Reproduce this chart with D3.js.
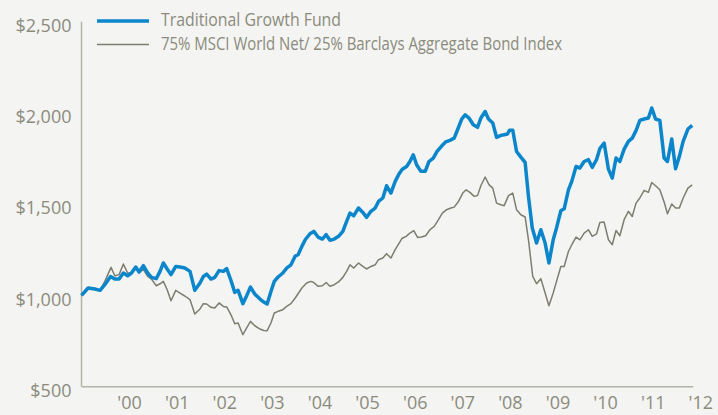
<!DOCTYPE html>
<html>
<head>
<meta charset="utf-8">
<script src="https://cdn.jsdelivr.net/npm/d3@7"></script>
<style>
  html, body { margin: 0; padding: 0; background: #f4f4f2; }
  svg { display: block; }
  text { font-family: 'Open Sans', sans-serif; fill: #8b8b7d; }
</style>
</head>
<body>
<div id="chart"></div>
<script>
const seriesNames = ['Traditional Growth Fund', '75% MSCI World Net/ 25% Barclays Aggregate Bond Index']
const yTicks = [500, 1000, 1500, 2000, 2500]
const yearTicks = [2000, 2001, 2002, 2003, 2004, 2005, 2006, 2007, 2008, 2009, 2010, 2011, 2012]

// [decimal year, growth of $1,000]
const fund = [
  [1999.00, 1000], [1999.14, 1041], [1999.28, 1035], [1999.39, 1028], [1999.49, 1059],
  [1999.61, 1104], [1999.70, 1090], [1999.79, 1090], [1999.88, 1123], [1999.97, 1108],
  [2000.05, 1123], [2000.14, 1156], [2000.21, 1128], [2000.30, 1163], [2000.39, 1123],
  [2000.47, 1099], [2000.57, 1092], [2000.65, 1132], [2000.72, 1178], [2000.80, 1145],
  [2000.88, 1114], [2000.98, 1159], [2001.07, 1156], [2001.17, 1150], [2001.28, 1132],
  [2001.38, 1028], [2001.49, 1068], [2001.56, 1104], [2001.63, 1117], [2001.72, 1090],
  [2001.80, 1099], [2001.89, 1136], [2001.98, 1132], [2002.05, 1147], [2002.14, 1082],
  [2002.22, 1017], [2002.29, 1028], [2002.39, 955], [2002.47, 999], [2002.55, 1046],
  [2002.64, 1008], [2002.75, 980], [2002.83, 964], [2002.90, 953], [2002.98, 1022],
  [2003.05, 1077], [2003.13, 1101], [2003.23, 1123], [2003.31, 1150], [2003.40, 1168],
  [2003.49, 1216], [2003.55, 1223], [2003.63, 1269], [2003.70, 1305], [2003.80, 1338],
  [2003.88, 1351], [2003.97, 1320], [2004.06, 1309], [2004.14, 1333], [2004.22, 1302],
  [2004.31, 1309], [2004.40, 1324], [2004.49, 1351], [2004.57, 1406], [2004.64, 1451],
  [2004.72, 1437], [2004.82, 1479], [2004.91, 1455], [2004.99, 1428], [2005.08, 1461],
  [2005.17, 1479], [2005.24, 1515], [2005.33, 1534], [2005.41, 1601], [2005.50, 1561],
  [2005.59, 1625], [2005.68, 1670], [2005.74, 1692], [2005.83, 1707], [2005.90, 1734],
  [2005.97, 1771], [2006.04, 1716], [2006.13, 1680], [2006.22, 1680], [2006.30, 1734],
  [2006.39, 1753], [2006.47, 1789], [2006.57, 1820], [2006.65, 1841], [2006.74, 1850],
  [2006.83, 1862], [2006.90, 1908], [2006.99, 1968], [2007.06, 1990], [2007.14, 1972],
  [2007.23, 1935], [2007.32, 1921], [2007.39, 1972], [2007.48, 2008], [2007.55, 1967],
  [2007.64, 1945], [2007.72, 1866], [2007.81, 1877], [2007.88, 1881], [2007.95, 1885],
  [2007.99, 1905], [2008.06, 1905], [2008.14, 1789], [2008.23, 1758], [2008.32, 1729],
  [2008.39, 1543], [2008.47, 1370], [2008.56, 1287], [2008.65, 1360], [2008.74, 1287],
  [2008.82, 1178], [2008.91, 1305], [2008.98, 1370], [2009.07, 1464], [2009.14, 1475],
  [2009.23, 1579], [2009.30, 1625], [2009.39, 1707], [2009.47, 1698], [2009.56, 1734],
  [2009.65, 1744], [2009.73, 1702], [2009.82, 1744], [2009.89, 1805], [2009.98, 1835],
  [2010.07, 1692], [2010.15, 1643], [2010.23, 1753], [2010.31, 1734], [2010.40, 1802],
  [2010.49, 1844], [2010.57, 1862], [2010.65, 1903], [2010.73, 1959], [2010.82, 1967],
  [2010.91, 1972], [2010.98, 2027], [2011.06, 1967], [2011.15, 1959], [2011.24, 1753],
  [2011.31, 1734], [2011.40, 1857], [2011.48, 1694], [2011.56, 1762], [2011.64, 1844],
  [2011.74, 1912], [2011.83, 1932]
]

const benchmark = [
  [1999.00, 1000], [1999.14, 1041], [1999.28, 1035], [1999.39, 1028], [1999.49, 1077],
  [1999.62, 1154], [1999.70, 1108], [1999.79, 1114], [1999.88, 1172], [1999.97, 1123],
  [2000.05, 1123], [2000.14, 1150], [2000.21, 1128], [2000.30, 1141], [2000.39, 1104],
  [2000.47, 1090], [2000.57, 1053], [2000.65, 1064], [2000.72, 1077], [2000.80, 1031],
  [2000.88, 971], [2000.98, 1028], [2001.07, 1013], [2001.17, 997], [2001.28, 977],
  [2001.38, 898], [2001.49, 926], [2001.56, 955], [2001.63, 953], [2001.72, 935],
  [2001.80, 931], [2001.89, 959], [2001.98, 940], [2002.05, 937], [2002.14, 894],
  [2002.22, 845], [2002.29, 849], [2002.39, 785], [2002.47, 822], [2002.55, 858],
  [2002.64, 834], [2002.75, 816], [2002.83, 808], [2002.90, 807], [2002.98, 849],
  [2003.05, 904], [2003.13, 913], [2003.23, 922], [2003.31, 940], [2003.40, 955],
  [2003.49, 986], [2003.63, 1041], [2003.73, 1068], [2003.82, 1077], [2003.88, 1071],
  [2003.97, 1050], [2004.06, 1053], [2004.14, 1071], [2004.22, 1050], [2004.31, 1059],
  [2004.40, 1074], [2004.49, 1099], [2004.57, 1132], [2004.64, 1168], [2004.72, 1150],
  [2004.82, 1178], [2004.91, 1159], [2004.99, 1145], [2005.08, 1159], [2005.17, 1168],
  [2005.24, 1196], [2005.33, 1205], [2005.41, 1229], [2005.50, 1205], [2005.59, 1251],
  [2005.68, 1290], [2005.73, 1312], [2005.82, 1324], [2005.90, 1342], [2005.98, 1355],
  [2006.06, 1318], [2006.14, 1320], [2006.23, 1327], [2006.32, 1360], [2006.41, 1378],
  [2006.50, 1415], [2006.58, 1451], [2006.67, 1470], [2006.76, 1479], [2006.83, 1484],
  [2006.92, 1515], [2007.01, 1561], [2007.08, 1579], [2007.16, 1565], [2007.25, 1543],
  [2007.32, 1547], [2007.39, 1601], [2007.48, 1649], [2007.56, 1607], [2007.64, 1588],
  [2007.72, 1506], [2007.81, 1497], [2007.88, 1492], [2007.97, 1547], [2008.06, 1561],
  [2008.14, 1470], [2008.23, 1442], [2008.32, 1430], [2008.39, 1305], [2008.48, 1104],
  [2008.56, 1064], [2008.65, 1092], [2008.74, 1013], [2008.82, 944], [2008.91, 1013],
  [2008.98, 1077], [2009.07, 1159], [2009.14, 1159], [2009.23, 1241], [2009.30, 1278],
  [2009.39, 1320], [2009.47, 1305], [2009.56, 1342], [2009.65, 1360], [2009.73, 1324],
  [2009.82, 1337], [2009.89, 1400], [2009.98, 1402], [2010.07, 1305], [2010.15, 1278],
  [2010.23, 1356], [2010.31, 1327], [2010.40, 1415], [2010.49, 1461], [2010.57, 1433],
  [2010.65, 1506], [2010.73, 1534], [2010.82, 1576], [2010.91, 1565], [2010.98, 1619],
  [2011.06, 1601], [2011.15, 1579], [2011.24, 1512], [2011.31, 1448], [2011.40, 1501],
  [2011.48, 1479], [2011.56, 1479], [2011.64, 1534], [2011.74, 1588], [2011.83, 1606]
]

const width = 718
const height = 415

const svg = d3.select('#chart')
  .append('svg')
  .attr('width', width)
  .attr('height', height)

const x = d3.scaleLinear()
  .domain([1999, 2012])
  .range([81.5, 700.3])

const y = d3.scaleLinear()
  .domain([500, 2500])
  .range([386.7, 21.7])

// axes
const lastYear = fund[fund.length - 1][0]

svg.append('line')
  .attr('x1', x(1999)).attr('x2', x(1999))
  .attr('y1', y(2500)).attr('y2', y(500))
  .attr('stroke', '#b3b3aa')
  .attr('stroke-width', 1.5)

svg.append('line')
  .attr('x1', x(1999)).attr('x2', x(lastYear) + 1)
  .attr('y1', y(500)).attr('y2', y(500))
  .attr('stroke', '#b3b3aa')
  .attr('stroke-width', 1.5)

const yAxis = svg.append('g')
  .attr('transform', `translate(${x(1999) - 10},0)`)
  .call(d3.axisLeft(y).tickValues(yTicks).tickSize(0).tickPadding(0)
    .tickFormat(d => '$' + d3.format(',')(d)))
yAxis.select('.domain').remove()
yAxis.selectAll('text')
  .attr('dy', '0.32em')
  .attr('y', 4)
  .style('font-size', '18px')
  .style('fill', '#8b8b7d')
  .style('font-family', "'Open Sans', sans-serif")

const xAxis = svg.append('g')
  .attr('transform', `translate(0,${y(500)})`)
  .call(d3.axisBottom(x).tickValues(yearTicks).tickSize(0).tickPadding(0)
    .tickFormat(d => "'" + String(d).slice(2)))
xAxis.select('.domain').remove()
xAxis.selectAll('text')
  .attr('y', 10)
  .attr('dy', '0.71em')
  .style('font-size', '18px')
  .style('fill', '#8b8b7d')
  .style('font-family', "'Open Sans', sans-serif")

// lines
const line = d3.line()
  .x(d => x(d[0]))
  .y(d => y(d[1]))

svg.append('path')
  .datum(benchmark)
  .attr('d', line)
  .attr('fill', 'none')
  .attr('stroke', '#7d7d70')
  .attr('stroke-width', 1.5)
  .attr('stroke-linejoin', 'round')

svg.append('path')
  .datum(fund)
  .attr('d', line)
  .attr('fill', 'none')
  .attr('stroke', '#0b86cb')
  .attr('stroke-width', 3.5)
  .attr('stroke-linejoin', 'round')

// legend
const legend = svg.append('g')
const legendColors = ['#0b86cb', '#7d7d70']
const legendWidths = [3.5, 1.5]
const legendTextLen = [180, 401]

seriesNames.forEach((name, i) => {
  const ly = 21 + i * 23.5
  legend.append('line')
    .attr('x1', 97).attr('x2', 149)
    .attr('y1', ly).attr('y2', ly)
    .attr('stroke', legendColors[i])
    .attr('stroke-width', legendWidths[i])
  legend.append('text')
    .attr('x', 161)
    .attr('y', ly + 5)
    .attr('textLength', legendTextLen[i])
    .attr('lengthAdjust', 'spacingAndGlyphs')
    .style('font-size', '18px')
    .text(name)
})
</script>
</body>
</html>
